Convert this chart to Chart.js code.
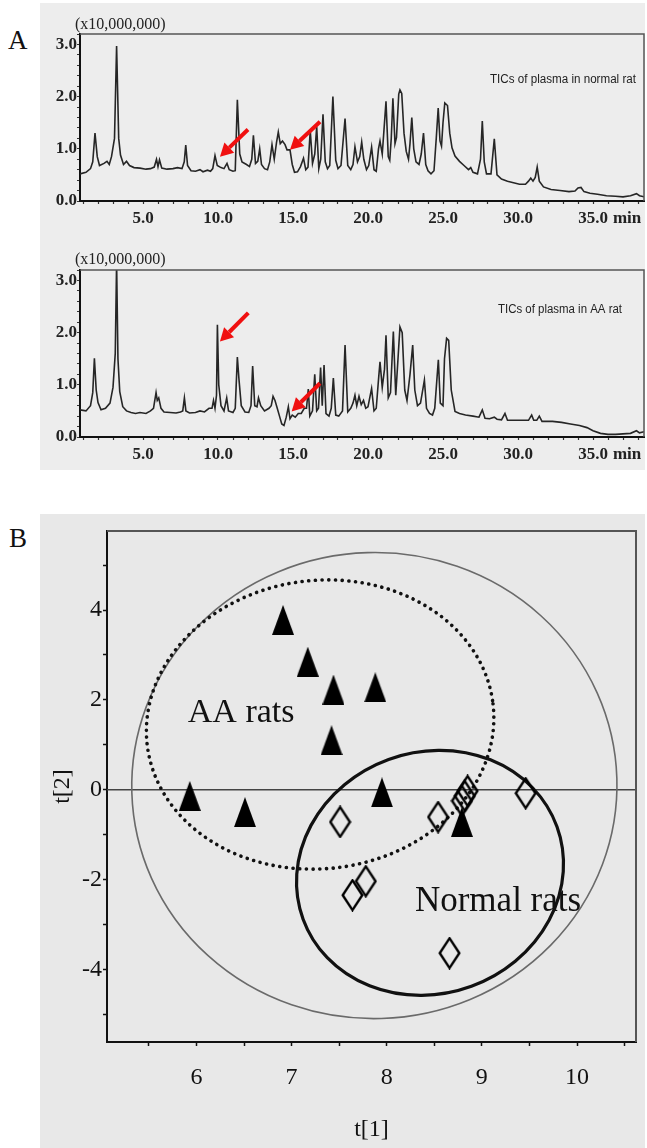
<!DOCTYPE html>
<html><head><meta charset="utf-8">
<script src="https://cdn.jsdelivr.net/npm/chart.js@4.4.1/dist/chart.umd.min.js"></script>
<style>
html,body{margin:0;padding:0;background:#fff;}
body{width:647px;height:1148px;position:relative;overflow:hidden;}
.bg{position:absolute;}
#bgA{left:40px;top:3px;width:605px;height:467px;background:#ededed;}
#bgB{left:40px;top:514px;width:605px;height:634px;background:#e8e8e8;}
.lbl{position:absolute;font-family:"Liberation Serif",serif;font-size:27px;line-height:27px;color:#111;}
canvas{position:absolute;left:0;}
</style></head><body>
<div class="bg" id="bgA"></div>
<div class="bg" id="bgB"></div>
<div class="lbl" style="left:8px;top:27px">A</div>
<div class="lbl" style="left:9px;top:525px">B</div>
<canvas id="c1" width="647" height="230" style="top:0px"></canvas>
<canvas id="c2" width="647" height="240" style="top:230px"></canvas>
<canvas id="c3" width="647" height="658" style="top:490px"></canvas>
<script>
// ---------- Panel A data: TIC chromatograms (retention time in min, intensity x10,000,000) ----------
const normalTime = [0.8,1.2,1.5,1.65,1.8,1.95,2.1,2.4,2.6,2.75,2.9,3.1,3.24,3.38,3.5,3.7,3.9,4.1,4.4,4.8,5.2,5.5,5.75,5.9,6.0,6.1,6.25,6.6,7.0,7.3,7.6,7.75,7.85,7.97,8.2,8.5,8.8,9.0,9.3,9.5,9.65,9.8,9.95,10.2,10.4,10.6,10.75,11.0,11.15,11.29,11.45,11.6,11.9,12.1,12.25,12.36,12.5,12.65,12.78,12.9,13.1,13.3,13.45,13.6,13.75,13.9,14.02,14.15,14.3,14.47,14.6,14.8,14.95,15.1,15.3,15.5,15.7,15.85,16.0,16.15,16.3,16.45,16.58,16.72,16.85,17.0,17.15,17.3,17.45,17.66,17.85,18.0,18.2,18.47,18.65,18.85,19.0,19.13,19.3,19.45,19.58,19.72,19.9,20.05,20.24,20.4,20.55,20.7,20.8,20.95,21.05,21.2,21.35,21.45,21.55,21.66,21.8,21.9,22.05,22.13,22.25,22.4,22.55,22.7,22.8,22.92,23.05,23.2,23.4,23.55,23.7,23.85,24.0,24.2,24.4,24.55,24.68,24.8,24.9,25.0,25.12,25.3,25.45,25.6,25.8,26.1,26.4,26.7,26.85,27.0,27.3,27.5,27.62,27.75,27.9,28.2,28.42,28.6,28.9,29.3,29.7,30.1,30.5,30.7,30.85,31.0,31.15,31.28,31.42,31.7,32.2,32.8,33.4,33.8,34.0,34.2,34.4,34.8,35.3,35.9,36.5,37.0,37.5,37.9,38.1,38.4];
const normalSignal = [0.52,0.55,0.62,0.75,1.30,0.85,0.68,0.72,0.76,0.70,0.85,1.2,2.97,1.2,0.88,0.70,0.76,0.68,0.64,0.63,0.61,0.62,0.65,0.80,0.66,0.79,0.63,0.61,0.62,0.64,0.62,0.75,1.07,0.68,0.58,0.57,0.60,0.56,0.59,0.57,0.62,0.87,0.68,0.64,0.62,0.72,0.60,0.57,0.58,1.94,0.90,0.75,0.70,0.66,0.80,1.26,0.72,0.76,1.00,0.70,0.62,0.60,0.75,1.08,0.80,1.12,1.32,1.10,1.15,1.08,0.98,0.98,0.70,0.55,0.56,0.66,0.82,0.60,0.65,1.35,0.72,0.90,1.42,0.62,0.80,1.66,0.75,0.62,0.68,2.00,0.78,0.62,0.68,1.58,0.68,0.60,0.70,1.04,0.75,0.85,1.13,0.80,0.60,0.68,1.03,0.60,0.57,1.00,1.15,0.90,1.30,1.91,0.85,0.78,1.20,1.97,1.10,1.22,2.05,2.13,2.06,1.30,0.95,0.80,1.10,1.60,1.00,0.75,0.70,0.90,1.30,0.70,0.58,0.52,0.58,1.20,1.78,1.15,1.05,1.50,1.88,1.83,1.30,1.02,0.86,0.76,0.68,0.60,0.64,0.55,0.52,0.80,1.53,0.75,0.52,0.52,1.19,0.50,0.42,0.38,0.35,0.32,0.32,0.38,0.44,0.38,0.45,0.65,0.38,0.27,0.22,0.20,0.18,0.19,0.25,0.26,0.18,0.15,0.13,0.10,0.09,0.08,0.10,0.14,0.10,0.08];
const aaTime = [0.8,1.2,1.5,1.65,1.76,1.88,2.0,2.2,2.5,2.8,3.0,3.15,3.24,3.33,3.45,3.65,3.9,4.2,4.5,4.8,5.2,5.5,5.7,5.87,5.95,6.05,6.2,6.4,6.8,7.2,7.5,7.65,7.76,7.86,8.1,8.5,8.8,9.1,9.4,9.6,9.7,9.8,9.9,9.96,10.05,10.2,10.4,10.58,10.7,11.0,11.15,11.29,11.4,11.55,11.8,12.05,12.2,12.31,12.45,12.6,12.7,12.85,13.1,13.4,13.55,13.67,13.8,13.95,14.1,14.25,14.4,14.55,14.69,14.8,14.95,15.15,15.35,15.55,15.75,15.9,16.02,16.12,16.3,16.45,16.58,16.7,16.84,16.95,17.07,17.2,17.4,17.55,17.69,17.85,18.05,18.3,18.47,18.65,18.85,19.0,19.13,19.25,19.4,19.55,19.7,19.85,20.0,20.24,20.4,20.55,20.7,20.8,20.95,21.1,21.2,21.35,21.5,21.69,21.85,22.0,22.13,22.28,22.45,22.6,22.8,22.98,23.12,23.3,23.5,23.76,23.9,24.1,24.3,24.45,24.69,24.82,25.0,25.1,25.24,25.38,25.55,25.8,26.1,26.5,27.0,27.4,27.62,27.8,28.1,28.42,28.6,28.9,29.13,29.3,29.8,30.3,30.7,30.91,31.05,31.25,31.42,31.6,32.3,32.9,33.5,34.1,34.6,35.0,35.5,36.0,36.5,37.0,37.5,37.9,38.1,38.4];
const aaSignal = [0.52,0.50,0.60,0.85,1.51,0.90,0.66,0.52,0.55,0.65,0.95,1.60,3.35,1.50,0.87,0.58,0.50,0.47,0.45,0.47,0.45,0.50,0.55,0.85,0.70,0.75,0.55,0.48,0.47,0.46,0.48,0.50,0.75,0.50,0.46,0.47,0.50,0.48,0.55,0.55,0.70,0.55,0.80,2.15,1.00,0.60,0.50,0.75,0.50,0.47,0.55,1.53,1.10,0.60,0.48,0.47,0.60,1.36,0.60,0.58,0.75,0.60,0.50,0.55,0.60,0.78,0.70,0.55,0.40,0.25,0.22,0.38,0.58,0.35,0.42,0.38,0.45,0.45,0.55,0.55,0.92,0.40,0.50,1.20,0.50,0.55,1.33,0.60,1.38,0.45,0.40,0.55,1.13,0.42,0.40,0.50,1.76,0.48,0.55,0.65,0.80,0.60,0.78,0.62,0.70,0.55,0.58,0.93,0.50,0.55,1.10,1.44,0.95,1.30,1.95,0.75,0.85,2.02,0.80,1.50,2.11,2.00,0.90,0.70,1.20,1.76,0.90,0.60,0.65,1.09,0.55,0.45,0.42,0.55,1.48,0.65,0.60,1.50,1.89,1.85,0.90,0.49,0.45,0.42,0.40,0.38,0.52,0.36,0.35,0.38,0.34,0.33,0.45,0.32,0.32,0.32,0.32,0.42,0.32,0.32,0.40,0.30,0.30,0.28,0.25,0.22,0.18,0.12,0.07,0.05,0.05,0.06,0.07,0.12,0.08,0.10];

// Tick labels (Panel A)
const chromXMajor = [5,10,15,20,25,30,35];
const chromXLabels = ['5.0','10.0','15.0','20.0','25.0','30.0','35.0'];
const chromYMajor = [0,1,2,3];
const chromYLabels = ['0.0','1.0','2.0','3.0'];
const chromUnit = '(x10,000,000)';
const chromTitles = ['TICs of plasma in normal rat','TICs of plasma in AA rat'];
// Red arrows [tailTime, tailIntensity, headTime, headIntensity]
const normalArrows = [[12.0,1.37,10.13,0.85],[16.8,1.52,14.8,0.98]];
const aaArrows = [[12.02,2.38,10.13,1.83],[16.8,1.03,14.91,0.49]];

// ---------- Panel B data: PCA scores ----------
const aaT1 = [6.91,7.17,7.44,7.88,7.42,5.93,6.51,7.95,8.79];
const aaT2 = [3.78,2.85,2.23,2.28,1.10,-0.14,-0.50,-0.06,-0.72];
const normalT1 = [7.51,8.54,8.79,8.82,8.85,9.46,7.78,7.64,8.66];
const normalT2 = [-0.72,-0.61,-0.25,-0.14,-0.03,-0.08,-2.04,-2.35,-3.64];
const pcaXMajor = [6,7,8,9,10];
const pcaXLabels = ['6','7','8','9','10'];
const pcaYMajor = [-4,-2,0,2,4];
const pcaYLabels = ['-4','-2','0','2','4'];
const groupNames = ['AA rats','Normal rats'];
const groupLabelX = [6.47,9.17];
const groupLabelY = [1.70,-2.50];
// Ellipses: Hotelling T2 (all), AA group (dotted), Normal group (solid)
const ellCx = [7.87,7.30,8.455];
const ellCy = [0.09,1.45,-1.853];
const ellRx = [2.55,1.83,1.42];
const ellRy = [5.19,3.21,2.69];

// ---------- helpers ----------
const SERIF = '"Liberation Serif", "Times New Roman", serif';
function rangeTicks(a, b, step){ const out=[]; const n=Math.round((b-a)/step); for(let i=0;i<=n;i++) out.push(Math.round((a+i*step)*100)/100); return out; }
function labelFrom(majors, labels){ return v => { const i = majors.indexOf(Math.round(v*100)/100); return i>=0 ? labels[i] : ''; }; }

const chromDecor = {
  id:'chromDecor',
  afterDraw(chart, args, o){
    const {ctx, chartArea:a, scales:{x,y}} = chart;
    ctx.save();
    ctx.strokeStyle='#555'; ctx.lineWidth=1.5;
    ctx.beginPath(); ctx.moveTo(a.left,a.top); ctx.lineTo(a.right,a.top); ctx.lineTo(a.right,a.bottom); ctx.stroke();
    ctx.fillStyle='#222'; ctx.textAlign='left'; ctx.textBaseline='middle';
    ctx.font='16px '+SERIF; ctx.fillText(o.unit, 75, o.unitY);
    ctx.font='12px "Liberation Sans", Arial, sans-serif';
    ctx.fillText(o.title, o.titleX, o.titleY, o.titleW);
    ctx.font='bold 17px '+SERIF;
    const px35 = x.getPixelForValue(35);
    ctx.fillText('min', px35 + ctx.measureText('35.0').width/2 + 5, a.bottom + 18);
    // arrows
    ctx.strokeStyle='#f01010'; ctx.fillStyle='#f01010'; ctx.lineWidth=4; ctx.lineCap='butt';
    o.arrows.forEach(ar=>{
      const x0=x.getPixelForValue(ar[0]), y0=y.getPixelForValue(ar[1]);
      const x1=x.getPixelForValue(ar[2]), y1=y.getPixelForValue(ar[3]);
      const ang=Math.atan2(y1-y0,x1-x0), L=13, W=7;
      const bx=x1-L*Math.cos(ang), by=y1-L*Math.sin(ang);
      ctx.beginPath(); ctx.moveTo(x0,y0); ctx.lineTo(bx,by); ctx.stroke();
      ctx.beginPath(); ctx.moveTo(x1,y1);
      ctx.lineTo(bx+W*Math.sin(ang), by-W*Math.cos(ang));
      ctx.lineTo(bx-W*Math.sin(ang), by+W*Math.cos(ang));
      ctx.closePath(); ctx.fill();
    });
    ctx.restore();
  }
};

function chromChart(id, times, signal, padTop, xAxisH, decor){
  const pts = times.map((t,i)=>({x:t, y:signal[i]}));
  return new Chart(document.getElementById(id), {
    type:'scatter',
    data:{datasets:[{data:pts, showLine:true, pointRadius:0, borderColor:'#262626', borderWidth:1.6, tension:0}]},
    options:{
      responsive:false, animation:false, events:[],
      layout:{padding:{left:0,right:3,top:padTop,bottom:0}},
      plugins:{legend:{display:false}, tooltip:{enabled:false}, chromDecor:decor},
      scales:{
        x:{type:'linear', min:0.8, max:38.4,
          afterBuildTicks:s=>{ s.ticks = rangeTicks(1,38,1).map(v=>({value:v})); },
          afterFit:s=>{ s.height = xAxisH; },
          ticks:{autoSkip:false, maxRotation:0, padding:4, color:'#222', font:{family:SERIF,size:17,weight:'bold'}, callback:labelFrom(chromXMajor,chromXLabels)},
          grid:{drawOnChartArea:false, drawTicks:true, tickLength:3, color:'#333', tickWidth:1.2},
          border:{display:true,color:'#111',width:2}},
        y:{type:'linear', min:0, max:3.2,
          afterBuildTicks:s=>{ s.ticks = rangeTicks(0,3.2,0.2).map(v=>({value:v})); },
          afterFit:s=>{ s.width = 80; },
          ticks:{autoSkip:false, padding:0, color:'#222', font:{family:SERIF,size:17,weight:'bold'}, callback:labelFrom(chromYMajor,chromYLabels)},
          grid:{drawOnChartArea:false, drawTicks:true, tickLength:3, color:'#333', tickWidth:1.2},
          border:{display:true,color:'#111',width:2}}
      }
    },
    plugins:[chromDecor]
  });
}

chromChart('c1', normalTime, normalSignal, 34, 29,
  {unit:chromUnit, unitY:25, title:chromTitles[0], titleX:490, titleY:80, titleW:146, arrows:normalArrows});
chromChart('c2', aaTime, aaSignal, 40, 33,
  {unit:chromUnit, unitY:30, title:chromTitles[1], titleX:498, titleY:80, titleW:124, arrows:aaArrows});

// ---------- Panel B ----------
function makeTriangle(w,h){ const c=document.createElement('canvas'); c.width=w; c.height=h; const g=c.getContext('2d');
  g.fillStyle='#000'; g.beginPath(); g.moveTo(w/2,0); g.lineTo(w,h); g.lineTo(0,h); g.closePath(); g.fill(); return c; }
function makeDiamond(w,h,lw){ const c=document.createElement('canvas'); c.width=w; c.height=h; const g=c.getContext('2d');
  g.strokeStyle='#000'; g.lineWidth=lw; g.lineJoin='miter'; const p=lw/2+0.5;
  g.beginPath(); g.moveTo(w/2,p); g.lineTo(w-p,h/2); g.lineTo(w/2,h-p); g.lineTo(p,h/2); g.closePath(); g.stroke(); return c; }

const pcaDecor = {
  id:'pcaDecor',
  beforeDatasetsDraw(chart){
    const {ctx, chartArea:a, scales:{x,y}} = chart;
    ctx.save();
    ctx.beginPath(); ctx.rect(a.left,a.top,a.right-a.left,a.bottom-a.top); ctx.clip();
    // zero line
    const y0=y.getPixelForValue(0);
    ctx.strokeStyle='#444'; ctx.lineWidth=1.5;
    ctx.beginPath(); ctx.moveTo(a.left,y0); ctx.lineTo(a.right,y0); ctx.stroke();
    const sx = x.getPixelForValue(1)-x.getPixelForValue(0);
    const sy = y.getPixelForValue(0)-y.getPixelForValue(1);
    const styles = [
      {color:'#6a6a6a', lw:1.6, dash:[], cap:'butt', rot:-0.03},
      {color:'#111', lw:3.6, dash:[0.1,6.6], cap:'round', rot:-0.12},
      {color:'#111', lw:3.2, dash:[], cap:'butt', rot:-0.35}
    ];
    for(let i=0;i<ellCx.length;i++){
      const st=styles[i];
      ctx.strokeStyle=st.color; ctx.lineWidth=st.lw; ctx.setLineDash(st.dash); ctx.lineCap=st.cap;
      ctx.beginPath();
      ctx.ellipse(x.getPixelForValue(ellCx[i]), y.getPixelForValue(ellCy[i]), ellRx[i]*sx, ellRy[i]*sy, st.rot, 0, Math.PI*2);
      ctx.stroke();
    }
    ctx.restore();
  },
  afterDraw(chart){
    const {ctx, chartArea:a, scales:{x,y}} = chart;
    ctx.save();
    ctx.strokeStyle='#555'; ctx.lineWidth=2;
    ctx.beginPath(); ctx.moveTo(a.left,a.top); ctx.lineTo(a.right,a.top); ctx.lineTo(a.right,a.bottom); ctx.stroke();
    ctx.fillStyle='#111'; ctx.textAlign='center'; ctx.textBaseline='middle';
    const sizes=[34,35];
    for(let i=0;i<groupNames.length;i++){
      ctx.font=sizes[i]+'px '+SERIF;
      ctx.fillText(groupNames[i], x.getPixelForValue(groupLabelX[i]), y.getPixelForValue(groupLabelY[i]));
    }
    ctx.restore();
  }
};

new Chart(document.getElementById('c3'), {
  type:'scatter',
  data:{datasets:[
    {label:'AA rats', data:aaT1.map((v,i)=>({x:v,y:aaT2[i]})), pointStyle:makeTriangle(22,30), pointRadius:10},
    {label:'Normal rats', data:normalT1.map((v,i)=>({x:v,y:normalT2[i]})), pointStyle:makeDiamond(23,33,2.4), pointRadius:10}
  ]},
  options:{
    responsive:false, animation:false, events:[],
    layout:{padding:{left:40,right:5,top:41,bottom:0}},
    plugins:{legend:{display:false}, tooltip:{enabled:false}},
    scales:{
      x:{type:'linear', min:5.06, max:10.62,
        afterBuildTicks:s=>{ s.ticks = rangeTicks(5.5,10.5,0.5).map(v=>({value:v})); },
        afterFit:s=>{ s.height = 106; },
        ticks:{autoSkip:false, maxRotation:0, padding:17, color:'#111', font:{family:SERIF,size:24}, callback:labelFrom(pcaXMajor,pcaXLabels)},
        grid:{drawOnChartArea:false, drawTicks:true, tickLength:4, color:'#111', tickWidth:1.5},
        border:{display:true,color:'#111',width:2},
        title:{display:true, text:'t[1]', color:'#111', font:{family:SERIF,size:24}, padding:{top:4,bottom:4}}},
      y:{type:'linear', min:-5.62, max:5.76,
        afterBuildTicks:s=>{ s.ticks = rangeTicks(-5,5,1).map(v=>({value:v})); },
        afterFit:s=>{ s.width = 67; },
        ticks:{autoSkip:false, padding:1, color:'#111', font:{family:SERIF,size:24}, callback:labelFrom(pcaYMajor,pcaYLabels)},
        grid:{drawOnChartArea:false, drawTicks:true, tickLength:4, color:'#111', tickWidth:1.5},
        border:{display:true,color:'#111',width:2},
        title:{display:true, text:'t[2]', color:'#111', font:{family:SERIF,size:24}, padding:{top:8,bottom:4}}}
    }
  },
  plugins:[pcaDecor]
});
</script>
</body></html>
